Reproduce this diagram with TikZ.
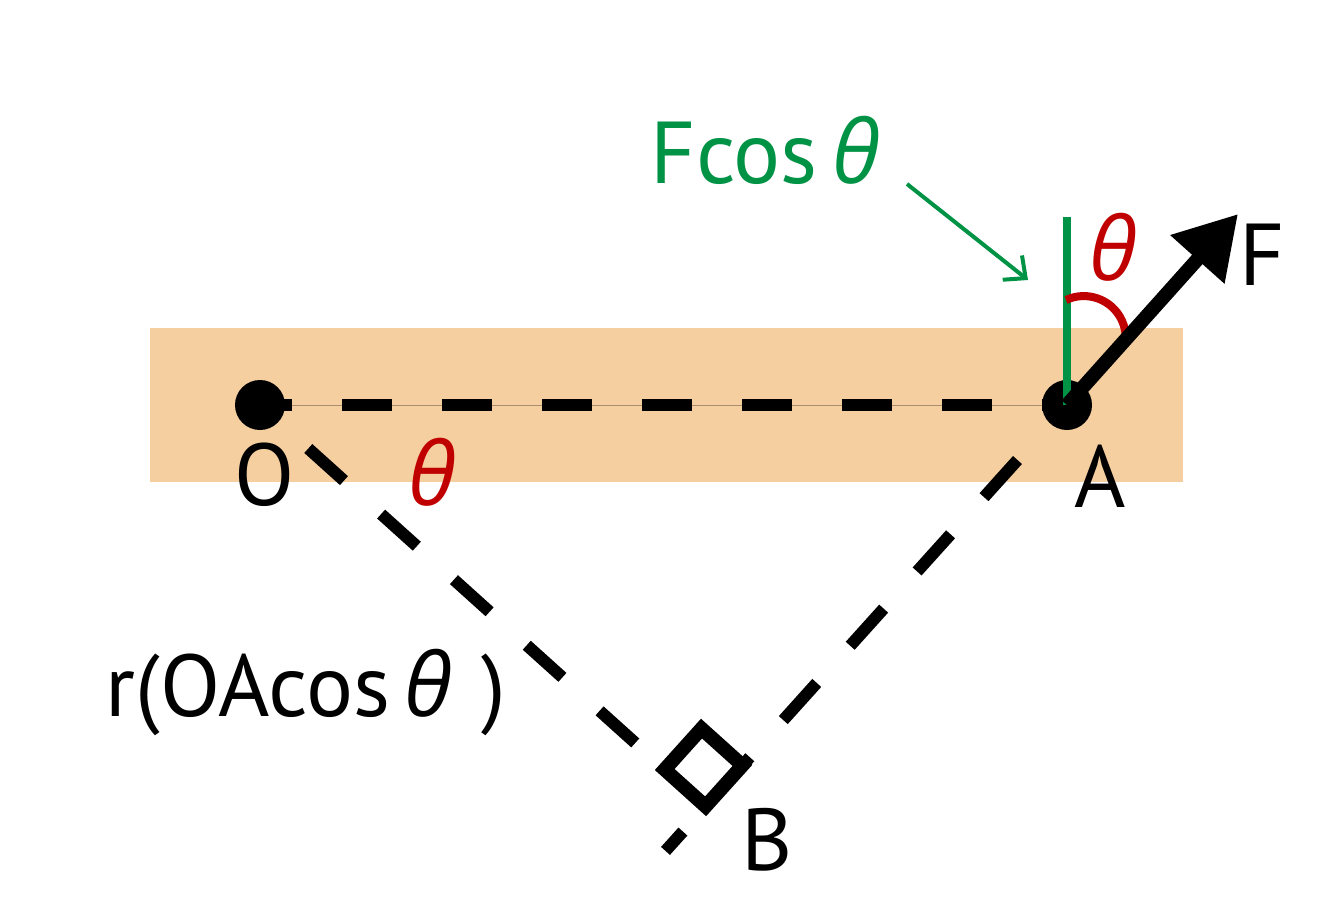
\documentclass[tikz,border=0pt]{standalone}
\usepackage{fontspec}
\setmainfont{PT Sans}
\newfontfamily\greekfont{Open Sans}
\usetikzlibrary{arrows.meta,calc}
\definecolor{board}{RGB}{246,207,160}
\definecolor{boardline}{RGB}{170,140,110}
\definecolor{cosgreen}{RGB}{0,146,69}
\definecolor{angred}{RGB}{192,0,0}
\newcommand{\angth}{{\greekfont\itshape θ}}
\tikzset{>=latex}
\tikzset{
    dot/.style={circle, fill=black, inner sep=0pt, minimum size=0.5cm},
    lbl/.style={font=\fontsize{25}{30}\selectfont, inner sep=0pt, anchor=base},
    dashline/.style={black, line width=0.12cm, dash pattern=on 0.5cm off 0.5cm},
}

\begin{document}
\begin{tikzpicture}
    \useasboundingbox (0,0) rectangle (13.33,9.17);
    \fill[board] (1.50,4.35) rectangle (11.83,5.89);

    \coordinate (O) at (2.60,5.12);
    \coordinate (A) at (10.67,5.12);
    \coordinate (B) at (7.056,1.107);
    \coordinate (Bend) at (6.655,0.661);
    \coordinate (Ftip) at (12.38,7.03);
    \coordinate (gtop) at (10.67,7.00);

    \draw[boardline, line width=0.01cm] (O) -- (A);
    \draw[dashline, dash phase=0.18cm] (O) -- (A);
    \draw[dashline, dash pattern=on 0.48cm off 0.5cm, dash phase=0.33cm] (O) -- (B);
    \draw[dashline, dash phase=0.26cm] (A) -- (Bend);

    % right angle at B
    \draw[black, line width=0.14cm] (B) -- ++(-0.409,0.368) -- ++(0.368,0.409) -- ++(0.409,-0.368) -- cycle;

    \node[dot] (Odot) at (O) {};
    \node[dot] (Adot) at (A) {};

    \draw[cosgreen, line width=0.08cm] (A) -- (gtop);
    \draw[angred, line width=0.08cm] (10.66,6.17) arc[start angle=115, end angle=-5, radius=0.42];
    \draw[black, line width=0.14cm, -{Triangle[length=0.61cm, width=0.69cm]}] (A) -- (Ftip);

    \node[lbl] (lO) at (2.65,4.12) {O};
    \node[lbl] (lA) at (11.00,4.10) {A};
    \node[lbl] (lB) at (7.67,0.47) {B};
    \node[lbl] (lF) at (12.62,6.32) {F};
    \node[lbl, angred] (thO) at (4.32,4.12) {\angth};
    \node[lbl, angred] (thA) at (11.13,6.37) {\angth};

    \node[lbl, cosgreen, anchor=base west] (fcos) at (6.50,7.34) {Fcos\,\angth};
    \node[lbl, anchor=base west] (rlen) at (1.05,2.01) {r(OAcos\,\angth\,\,)};

    \coordinate (gtail) at (9.07,7.33);
    \coordinate (ghead) at (10.28,6.37);
    \draw[cosgreen, line width=0.04cm, -{Straight Barb[length=0.17cm, width=0.31cm]}] (gtail) -- (ghead);

\end{tikzpicture}
\end{document}
